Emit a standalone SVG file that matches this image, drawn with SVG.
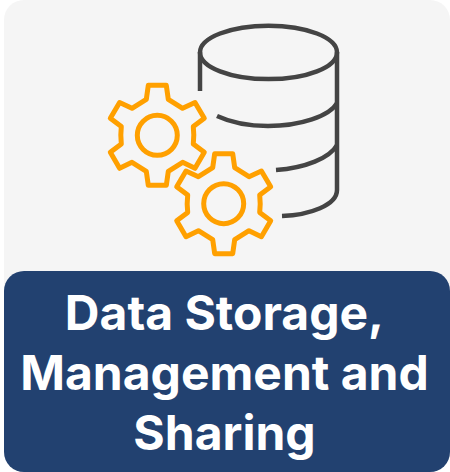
<svg xmlns="http://www.w3.org/2000/svg" width="450" height="472" viewBox="0 0 450 472">
<defs>
<style>
.db{fill:none;stroke:#444;stroke-width:4.5}
.g{fill:none;stroke:#ffa000;stroke-width:5;stroke-linejoin:round}
.t{font-family:Inter,"Liberation Sans",sans-serif;font-weight:700;font-size:48px;fill:#fff;text-anchor:middle}
</style>
<g id="gear">
<path class="g" d="M-9,-50 L9,-50 L11,-36 L25.3,-27 L37.7,-32.7 L47,-17 L36,-8.7 Q37,0 36,8.7 L47,17 L37.7,33 L25.3,27 L11,36 L9,50 L-9,50 L-11,36 L-25.3,27 L-37.7,33 L-47,17 L-36,8.7 Q-37,0 -36,-8.7 L-47,-17 L-37.7,-32.7 L-25.3,-27 L-11,-36 Z"/>
<circle class="g" r="20"/>
</g>
</defs>
<rect id="background" x="4" y="0" width="446" height="472" rx="20" fill="#f5f5f5"/>
<g id="database">
<ellipse class="db" cx="268.5" cy="52.4" rx="68.5" ry="26.7"/>
<path class="db" d="M200,52 V91"/>
<path class="db" d="M337,52 V190 C337,205 310,215 282,216"/>
<path class="db" d="M217,116 C232,123 250,126 268,126 C300,126 330,116 337,103"/>
<path class="db" d="M276,170 C305,168 330,158 337,145"/>
</g>
<use id="gear-1" href="#gear" x="157.3" y="135.3"/>
<use id="gear-2" href="#gear" x="223.7" y="203.7"/>
<g id="title">
<rect x="4" y="271" width="446" height="201" rx="20" fill="#224170"/>
<text class="t" x="224.5" y="330">Data Storage,</text>
<text class="t" x="224.5" y="390">Management and</text>
<text class="t" x="224.5" y="450">Sharing</text>
</g>
</svg>
